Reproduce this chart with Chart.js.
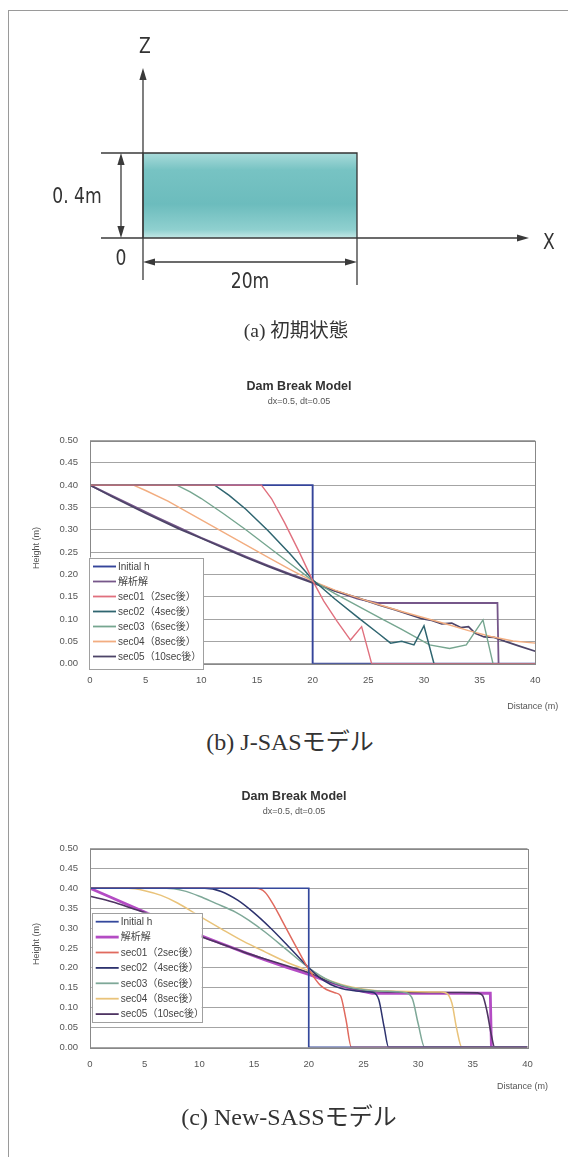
<!DOCTYPE html>
<html lang="ja">
<head>
<meta charset="utf-8">
<title>Dam Break Model</title>
<script src="https://cdn.jsdelivr.net/npm/chart.js"></script>
<style>
  html, body { margin: 0; padding: 0; background: #fff; }
  body { width: 568px; height: 1157px; position: relative; overflow: hidden; }
  #frame { position: absolute; left: 8px; top: 10px; width: 600px; height: 1200px;
           border-left: 1px solid #9a9a9a; border-top: 1px solid #9a9a9a; }
  canvas { position: absolute; left: 0; }
  .cap { position: absolute; transform: translate(-50%, -50%); white-space: nowrap;
         font-family: "Liberation Serif", "Noto Sans CJK JP", serif; font-size: 24px; color: #333; }
</style>
</head>
<body>
<div id="frame"></div>
<canvas id="diagram" width="568" height="345" style="top:0"></canvas>
<canvas id="chartB" width="568" height="350" style="top:370px"></canvas>
<canvas id="chartC" width="568" height="320" style="top:780px"></canvas>
<div class="cap" style="left:296px;top:328px;font-size:19.5px">(a) 初期状態</div>
<div class="cap" style="left:290px;top:739px">(b) J-SASモデル</div>
<div class="cap" style="left:289px;top:1114px">(c) New-SASSモデル</div>

<script>
// --- 軸目盛 ---
const xTicks = [0, 5, 10, 15, 20, 25, 30, 35, 40];
const xTickLabels = ['0', '5', '10', '15', '20', '25', '30', '35', '40'];
const yTicks = [0, 0.05, 0.1, 0.15, 0.2, 0.25, 0.3, 0.35, 0.4, 0.45, 0.5];
const yTickLabels = ['0.00', '0.05', '0.10', '0.15', '0.20', '0.25', '0.30', '0.35', '0.40', '0.45', '0.50'];

const seriesNames = ['Initial h', '解析解', 'sec01（2sec後）', 'sec02（4sec後）', 'sec03（6sec後）', 'sec04（8sec後）', 'sec05（10sec後）'];

// --- 初期状態 (a) ---
const tankX = [0, 0, 20, 20];
const tankZ = [0, 0.4, 0.4, 0];

// --- 共通: 初期水深・解析解 ---
const initX = [0, 20, 20, 40];
const initH = [0.4, 0.4, 0, 0];
const anaX = [0, 2, 4, 6, 8, 10, 12, 14, 16, 18, 20, 22, 24, 25.8, 36.6, 36.7];
const anaH = [0.40, 0.376, 0.352, 0.328, 0.305, 0.282, 0.261, 0.240, 0.220, 0.201, 0.183, 0.163, 0.146, 0.136, 0.136, 0];

// --- (b) J-SAS ---
const jSec01X = [0, 15.4, 16.3, 17.5, 18.8, 20, 21, 22.2, 23.4, 24.4, 25.3, 40];
const jSec01H = [0.4, 0.4, 0.37, 0.315, 0.25, 0.186, 0.14, 0.095, 0.053, 0.083, 0, 0];
const jSec02X = [0, 11.2, 12.5, 14, 16, 18, 20, 22, 24, 26, 27, 28, 29.1, 30, 30.9, 40];
const jSec02H = [0.4, 0.4, 0.377, 0.346, 0.298, 0.245, 0.188, 0.145, 0.105, 0.066, 0.046, 0.05, 0.042, 0.085, 0, 0];
const jSec03X = [0, 7.8, 9, 10, 12, 14, 16, 18, 20, 22, 24, 26, 28, 30.5, 32.3, 33.8, 35.3, 36.2, 40];
const jSec03H = [0.4, 0.4, 0.385, 0.37, 0.336, 0.3, 0.262, 0.224, 0.186, 0.157, 0.13, 0.103, 0.077, 0.042, 0.034, 0.042, 0.098, 0, 0];
const jSec04X = [0, 3.9, 5, 7, 10, 12, 14, 16, 18, 20, 22, 24, 26, 28, 30, 32, 34, 36, 38, 40];
const jSec04H = [0.4, 0.4, 0.388, 0.364, 0.322, 0.294, 0.266, 0.238, 0.211, 0.185, 0.165, 0.148, 0.132, 0.117, 0.103, 0.089, 0.074, 0.061, 0.051, 0.046];
const jSec05X = [0, 2, 5, 8, 10, 12, 14, 16, 18, 20, 22, 24, 26, 27.5, 28.8, 29.8, 30.7, 31.6, 32.5, 33.3, 34, 34.6, 35.4, 36.3, 37.3, 38.5, 40];
const jSec05H = [0.4, 0.374, 0.337, 0.302, 0.281, 0.259, 0.238, 0.218, 0.199, 0.181, 0.163, 0.148, 0.131, 0.12, 0.109, 0.101, 0.097, 0.089, 0.091, 0.081, 0.083, 0.068, 0.06, 0.059, 0.05, 0.04, 0.028];

// --- (c) New-SASS ---
const nSec01X = [0, 15.2, 16, 16.7, 17.5, 18.5, 19.3, 20, 21.1, 22.4, 22.9, 23.4, 23.9, 40];
const nSec01H = [0.4, 0.4, 0.39, 0.362, 0.322, 0.27, 0.23, 0.196, 0.155, 0.137, 0.13, 0.07, 0, 0];
const nSec02X = [0, 10.5, 12, 13.5, 15, 16.5, 18, 20, 21, 22, 23, 24, 25, 25.9, 26.4, 26.9, 27.3, 40];
const nSec02H = [0.4, 0.4, 0.392, 0.37, 0.338, 0.3, 0.258, 0.2, 0.175, 0.158, 0.148, 0.143, 0.14, 0.138, 0.12, 0.05, 0, 0];
const nSec03X = [0, 7, 8.5, 10, 11.5, 13.3, 14.5, 16, 18, 20, 22, 24, 26, 28, 28.9, 29.5, 30, 30.6, 40];
const nSec03H = [0.4, 0.4, 0.394, 0.38, 0.362, 0.34, 0.32, 0.29, 0.245, 0.2, 0.166, 0.149, 0.142, 0.14, 0.137, 0.12, 0.06, 0, 0];
const nSec04X = [0, 3.5, 5, 6.5, 8, 10, 12, 14, 16, 18, 20, 22, 24, 26, 28, 30, 32, 32.6, 33.1, 33.5, 34, 40];
const nSec04H = [0.4, 0.4, 0.394, 0.382, 0.363, 0.33, 0.298, 0.267, 0.24, 0.214, 0.192, 0.167, 0.151, 0.143, 0.141, 0.14, 0.139, 0.136, 0.11, 0.05, 0, 0];
const nSec05X = [0, 2, 4, 5.2, 8, 10, 12, 14, 16, 18, 20, 22, 24, 26, 28, 30, 32, 34, 35.4, 35.9, 36.3, 36.7, 37, 40];
const nSec05H = [0.38, 0.366, 0.348, 0.337, 0.302, 0.28, 0.26, 0.24, 0.222, 0.205, 0.188, 0.164, 0.148, 0.141, 0.139, 0.138, 0.138, 0.138, 0.137, 0.13, 0.09, 0.03, 0, 0];

const pts = (xs, hs) => xs.map((x, i) => ({ x: x, y: hs[i] }));

const SANS = '"Liberation Sans", "Noto Sans CJK JP", sans-serif';
const ink = '#3a3a3a';

// 1. 初期状態の図 (a)
function head(ctx, x, y, ang) {
    ctx.save();
    ctx.translate(x, y);
    ctx.rotate(ang);
    ctx.beginPath();
    ctx.moveTo(0, 0);
    ctx.lineTo(-12, -3.6);
    ctx.lineTo(-12, 3.6);
    ctx.closePath();
    ctx.fill();
    ctx.restore();
}
function seg(ctx, ax, ay, bx, by) {
    ctx.beginPath();
    ctx.moveTo(ax, ay);
    ctx.lineTo(bx, by);
    ctx.stroke();
}
function narrow(ctx, txt, x, y) {
    ctx.save();
    ctx.translate(x, y);
    ctx.scale(0.78, 1);
    ctx.font = '22px "DejaVu Sans", sans-serif';
    ctx.textAlign = 'center';
    ctx.textBaseline = 'middle';
    ctx.fillText(txt, 0, 0);
    ctx.restore();
}

const sketch = {
    id: 'sketch',
    afterDatasetsDraw(chart) {
        const { ctx } = chart;
        const xs = chart.scales.x, ys = chart.scales.y;
        const x0 = xs.getPixelForValue(tankX[0]), x1 = xs.getPixelForValue(tankX[2]);
        const z0 = ys.getPixelForValue(tankZ[0]), z1 = ys.getPixelForValue(tankZ[1]);
        ctx.save();
        ctx.strokeStyle = ink;
        ctx.fillStyle = ink;
        ctx.lineWidth = 1.3;
        // Z軸
        seg(ctx, x0, z0 + 42, x0, z0 - 160);
        head(ctx, x0, z0 - 170, -Math.PI / 2);
        // X軸
        seg(ctx, x0 - 42, z0, x0 + 376, z0);
        head(ctx, x0 + 386, z0, 0);
        // 補助線
        seg(ctx, x0 - 42, z1, x0, z1);
        seg(ctx, x1, z0, x1, z0 + 47);
        // 寸法線 0.4m
        seg(ctx, x0 - 22, z1 + 4, x0 - 22, z0 - 4);
        head(ctx, x0 - 22, z1, -Math.PI / 2);
        head(ctx, x0 - 22, z0, Math.PI / 2);
        // 寸法線 20m
        seg(ctx, x0 + 4, z0 + 24, x1 - 4, z0 + 24);
        head(ctx, x0, z0 + 24, Math.PI);
        head(ctx, x1, z0 + 24, 0);
        // 文字
        ctx.fillStyle = '#333';
        narrow(ctx, 'Z', x0 + 2, z0 - 191);
        narrow(ctx, 'X', x0 + 406, z0 + 5);
        narrow(ctx, '0. 4m', x0 - 66, (z0 + z1) / 2 + 2);
        narrow(ctx, '0', x0 - 22, z0 + 21);
        narrow(ctx, '20m', (x0 + x1) / 2, z0 + 44);
        ctx.restore();
    }
};

new Chart(document.getElementById('diagram'), {
    type: 'scatter',
    data: {
        datasets: [{
            data: pts(tankX, tankZ),
            showLine: true,
            pointRadius: 0,
            borderColor: '#333',
            borderWidth: 1.3,
            fill: 'origin',
            backgroundColor: (c) => {
                const ch = c.chart;
                if (!ch.chartArea) return '#74c2c2';
                const y = ch.scales.y;
                const g = ch.ctx.createLinearGradient(0, y.getPixelForValue(0.4), 0, y.getPixelForValue(0));
                g.addColorStop(0, '#a9dbda');
                g.addColorStop(0.2, '#77c3c3');
                g.addColorStop(0.6, '#6cbcbd');
                g.addColorStop(0.9, '#8fd0cf');
                g.addColorStop(1, '#c4e8e6');
                return g;
            }
        }]
    },
    options: {
        responsive: false,
        animation: false,
        events: [],
        layout: { padding: 0 },
        plugins: { legend: { display: false }, tooltip: { enabled: false } },
        scales: {
            x: { type: 'linear', display: false, min: -13.364, max: 39.72 },
            y: { type: 'linear', display: false, min: -0.5035, max: 1.12 }
        }
    },
    plugins: [sketch]
});

// 2. グラフ共通の飾り (タイトル・軸名・凡例・枠)
const dressing = {
    id: 'dressing',
    afterDatasetsDraw(chart, args, o) {
        const { ctx, chartArea: a } = chart;
        ctx.save();
        ctx.strokeStyle = '#888';
        ctx.lineWidth = 1;
        ctx.strokeRect(Math.round(a.left) + 0.5, Math.round(a.top) + 0.5,
            Math.round(a.right - a.left), Math.round(a.bottom - a.top));

        ctx.fillStyle = '#333';
        ctx.textAlign = 'center';
        ctx.textBaseline = 'middle';
        ctx.font = 'bold 12.5px ' + SANS;
        ctx.fillText('Dam Break Model', o.titleX, o.titleY);
        ctx.font = '9px ' + SANS;
        ctx.fillStyle = '#555';
        ctx.fillText('dx=0.5, dt=0.05', o.titleX, o.titleY + 15);

        ctx.save();
        ctx.translate(37, (a.top + a.bottom) / 2 - 4);
        ctx.rotate(-Math.PI / 2);
        ctx.fillText('Height (m)', 0, 0);
        ctx.restore();
        ctx.textAlign = 'right';
        ctx.fillText('Distance (m)', a.right + o.distDx, a.bottom + o.distDy);

        // 凡例
        const L = o.legend;
        const lx = a.left + L.dx, ly = a.top + L.dy;
        ctx.fillStyle = '#fff';
        ctx.fillRect(lx, ly, L.w, L.h);
        ctx.strokeStyle = '#a0a0a0';
        ctx.strokeRect(Math.round(lx) + 0.5, Math.round(ly) + 0.5, L.w, L.h);
        ctx.textAlign = 'left';
        ctx.font = '10px ' + SANS;
        chart.data.datasets.forEach((ds, i) => {
            const y = ly + L.first + i * L.step;
            ctx.strokeStyle = ds.borderColor;
            ctx.lineWidth = Math.max(ds.borderWidth, 1.8);
            seg(ctx, lx + 4, y, lx + 27, y);
            ctx.fillStyle = '#444';
            ctx.fillText(ds.label, lx + 29, y + 0.5);
        });
        ctx.restore();
    }
};

function makeChart(id, sets, H, area, dress) {
    new Chart(document.getElementById(id), {
        type: 'scatter',
        data: { datasets: sets },
        options: {
            responsive: false,
            animation: false,
            events: [],
            layout: {
                padding: { left: area.left - 40, right: 568 - area.right, top: area.top, bottom: H - area.bottom - 30 }
            },
            plugins: { legend: { display: false }, tooltip: { enabled: false }, dressing: dress },
            scales: {
                x: {
                    type: 'linear', min: 0, max: 40,
                    afterBuildTicks: (s) => { s.ticks = xTicks.map(v => ({ value: v })); },
                    afterFit: (s) => { s.height = 30; },
                    grid: { display: false, drawTicks: false },
                    border: { display: false },
                    ticks: { padding: 11, color: '#555', font: { size: 9.5, family: SANS },
                             maxRotation: 0, autoSkip: false, callback: (v, i) => xTickLabels[i] }
                },
                y: {
                    type: 'linear', min: 0, max: 0.5,
                    afterBuildTicks: (s) => { s.ticks = yTicks.map(v => ({ value: v })); },
                    afterFit: (s) => { s.width = 40; },
                    grid: { color: '#a4a4a4', drawTicks: false },
                    border: { display: false },
                    ticks: { padding: 12, color: '#555', font: { size: 9.5, family: SANS },
                             autoSkip: false, callback: (v, i) => yTickLabels[i] }
                }
            }
        },
        plugins: [dressing]
    });
}

function line(label, xs, hs, color, width, order, smooth) {
    return {
        label: label,
        data: pts(xs, hs),
        showLine: true,
        pointRadius: 0,
        borderColor: color,
        borderWidth: width,
        order: order,
        cubicInterpolationMode: smooth ? 'monotone' : 'default',
        tension: 0
    };
}

// 3. (b) J-SAS
makeChart('chartB', [
    line(seriesNames[0], initX, initH, '#35449a', 1.9, 6),
    line(seriesNames[1], anaX, anaH, '#76578a', 1.8, 5),
    line(seriesNames[2], jSec01X, jSec01H, '#e0707e', 1.4, 0),
    line(seriesNames[3], jSec02X, jSec02H, '#2f6570', 1.5, 1),
    line(seriesNames[4], jSec03X, jSec03H, '#76a690', 1.4, 2),
    line(seriesNames[5], jSec04X, jSec04H, '#f2ad80', 1.4, 3),
    line(seriesNames[6], jSec05X, jSec05H, '#4d4468', 1.7, 4)
], 350, { left: 90, right: 535.3, top: 70.5, bottom: 293.7 }, {
    titleX: 299, titleY: 16.7, distDx: 23, distDy: 43,
    legend: { dx: -1, dy: 117, w: 114, h: 111, first: 9, step: 15 }
});

// 4. (c) New-SASS
makeChart('chartC', [
    line(seriesNames[0], initX, initH, '#34489c', 1.7, 0),
    line(seriesNames[1], anaX, anaH, '#b44cc4', 2.8, 6),
    line(seriesNames[2], nSec01X, nSec01H, '#e06a5e', 1.5, 1, true),
    line(seriesNames[3], nSec02X, nSec02H, '#2d326e', 1.5, 2, true),
    line(seriesNames[4], nSec03X, nSec03H, '#7ea898', 1.5, 3, true),
    line(seriesNames[5], nSec04X, nSec04H, '#e9c37a', 1.5, 4, true),
    line(seriesNames[6], nSec05X, nSec05H, '#4e3462', 1.6, 5, true)
], 320, { left: 90, right: 527.5, top: 68.5, bottom: 267.3 }, {
    titleX: 294, titleY: 16.7, distDx: 20.5, distDy: 39.7,
    legend: { dx: 1.7, dy: 64.2, w: 110, h: 109, first: 9, step: 15.4 }
});
</script>
</body>
</html>
